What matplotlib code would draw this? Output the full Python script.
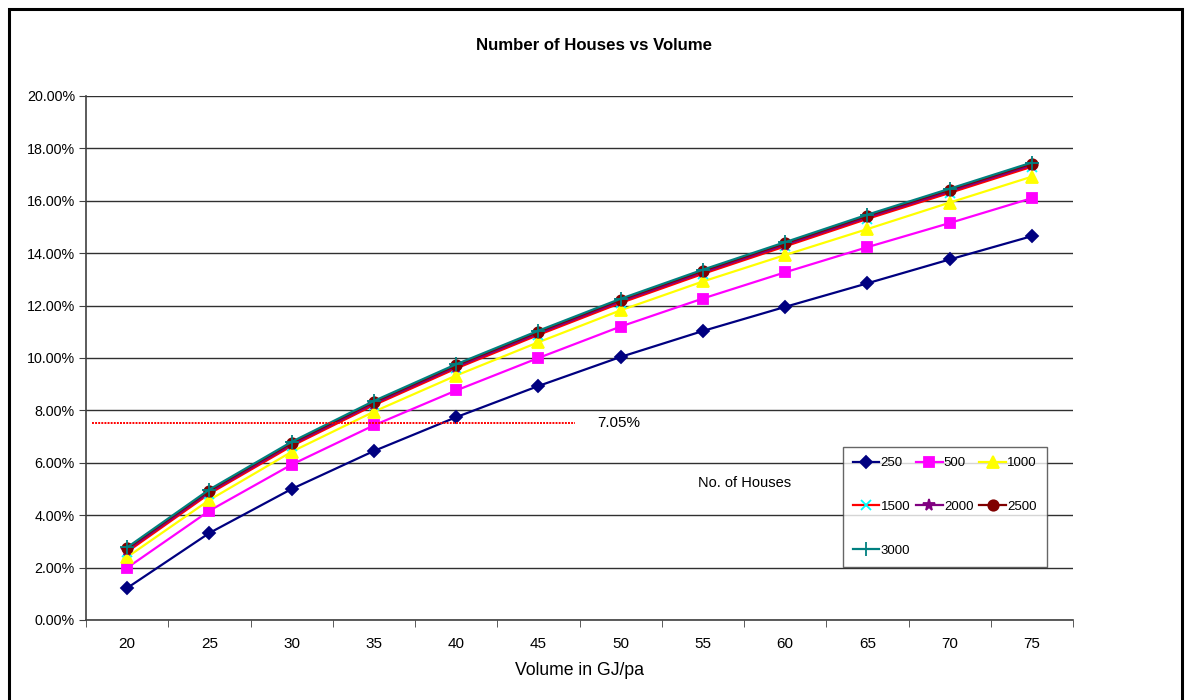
import numpy as np
import matplotlib
matplotlib.use("Agg")
import matplotlib.pyplot as plt
from matplotlib.ticker import PercentFormatter, FixedLocator
from matplotlib.patches import Rectangle

plt.rcParams['font.family'] = ['Liberation Sans', 'DejaVu Sans']

# volumes (GJ/pa) on the category axis
volumes = [20, 25, 30, 35, 40, 45, 50, 55, 60, 65, 70, 75]

# percentages, one list per number of houses
h250 = [1.22, 3.32, 5.00, 6.45, 7.74, 8.93, 10.04, 11.03, 11.95, 12.85, 13.76, 14.65]
h500 = [1.99, 4.17, 5.93, 7.43, 8.76, 10.00, 11.20, 12.27, 13.27, 14.23, 15.15, 16.10]
h1000 = [2.40, 4.58, 6.42, 7.95, 9.33, 10.60, 11.82, 12.92, 13.93, 14.92, 15.93, 16.92]
h1500 = [2.60, 4.82, 6.64, 8.20, 9.60, 10.88, 12.10, 13.21, 14.26, 15.31, 16.30, 17.30]
h2000 = [2.67, 4.88, 6.70, 8.26, 9.66, 10.94, 12.16, 13.27, 14.32, 15.37, 16.36, 17.36]
h2500 = [2.73, 4.94, 6.76, 8.32, 9.72, 11.00, 12.22, 13.33, 14.38, 15.43, 16.42, 17.42]
h3000 = [2.77, 4.98, 6.80, 8.36, 9.76, 11.04, 12.26, 13.37, 14.42, 15.47, 16.46, 17.46]

house_labels = ['250', '500', '1000', '1500', '2000', '2500', '3000']

# red reference line and its label
ref_level = 7.5
ref_label = '7.05%'

fig = plt.figure(figsize=(11.88, 7.0), dpi=100)
ax = fig.add_axes([0.0724, 0.1143, 0.8308, 0.7486])

x = np.arange(len(volumes))

# series styles: (line colour, marker, marker face, marker edge, size)
styles = [
    ('#000080', 'D', '#000080', '#000080', 6.5),
    ('#FF00FF', 's', '#FF00FF', '#FF00FF', 7.5),
    ('#FFFF00', '^', '#FFFF00', '#FFFF00', 8),
    ('#FF0000', 'x', '#00FFFF', '#00FFFF', 7),
    ('#800080', '*', '#800080', '#800080', 8.5),
    ('#800000', 'o', '#800000', '#800000', 7.5),
    ('#008080', '+', '#008080', '#008080', 10),
]
series = [h250, h500, h1000, h1500, h2000, h2500, h3000]

lines = []
for vals, lab, (col, mk, mfc, mec, ms) in zip(series, house_labels, styles):
    ln, = ax.plot(x, vals, color=col, lw=1.6, marker=mk, markersize=ms,
                  markerfacecolor=mfc, markeredgecolor=mec, markeredgewidth=1.3,
                  label=lab)
    lines.append(ln)

# dotted red line
ax.plot([-0.43, 5.45], [ref_level, ref_level], color='red', lw=1.4,
        linestyle=(0, (1, 0.6)))
ax.text(5.71, ref_level, ref_label, fontsize=11, va='center', ha='left')
ax.text(0.62, 0.262, 'No. of Houses', fontsize=10.5, transform=ax.transAxes,
        va='center', ha='left')

ax.set_xlim(-0.5, len(volumes) - 0.5)
ax.set_ylim(0, 20)
ax.yaxis.set_major_locator(FixedLocator(np.arange(0, 20.1, 2)))
ax.yaxis.set_major_formatter(PercentFormatter(xmax=100, decimals=2))
ax.set_xticks(x)
ax.set_xticklabels([str(v) for v in volumes])
ax.set_xticks(np.arange(-0.5, len(volumes)), minor=True)
ax.tick_params(axis='x', which='major', length=0, pad=12, labelsize=11)
ax.tick_params(axis='x', which='minor', length=5, color='#404040', direction='out')
ax.tick_params(axis='y', length=5, color='#404040', direction='out', labelsize=10.3, pad=3)

ax.grid(axis='y', color='#303030', lw=1)
ax.set_axisbelow(True)
for s in ['top', 'right']:
    ax.spines[s].set_visible(False)
for s in ['left', 'bottom']:
    ax.spines[s].set_color('#404040')
    ax.spines[s].set_linewidth(1.2)

ax.set_xlabel('Volume in GJ/pa', fontsize=12.7, labelpad=8)
fig.text(0.5, 0.935, 'Number of Houses vs Volume', fontsize=12.1,
         fontweight='bold', ha='center', va='center')

# legend fills row by row in the reference, matplotlib fills columns
order = [0, 3, 6, 1, 4, 2, 5]
leg = ax.legend([lines[i] for i in order], [house_labels[i] for i in order],
                loc='upper left', bbox_to_anchor=(843 / 1188, 1 - 447 / 700),
                bbox_transform=fig.transFigure, ncol=3, fontsize=9.5,
                frameon=True, fancybox=False, edgecolor='#404040',
                handlelength=2.0, handletextpad=0.1, columnspacing=0.45,
                labelspacing=2.4, borderpad=0.75, borderaxespad=0)
leg.get_frame().set_linewidth(1.0)

# outer chart border
fig.patches.append(Rectangle((9 / 1188, -0.02), 1173 / 1188, 1 - 9 / 700 + 0.02,
                             transform=fig.transFigure, fill=False,
                             edgecolor='black', lw=2.2, clip_on=False))

fig.savefig('out.png', dpi=100)
